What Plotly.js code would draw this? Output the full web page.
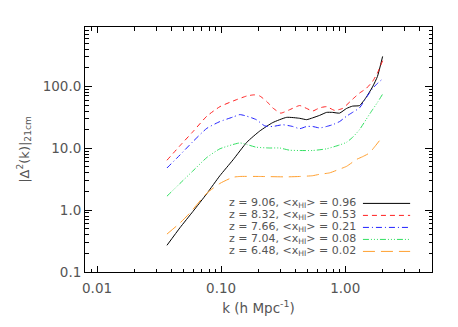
<!DOCTYPE html>
<html>
<head>
<meta charset="utf-8">
<script src="https://cdn.plot.ly/plotly-3.0.1.min.js"></script>
<style>
html,body{margin:0;padding:0;background:#fff;}
#chart{width:458px;height:327px;}
</style>
</head>
<body>
<div id="chart"></div>
<script>
// ---- data ----
var kBlack = [0.0366,0.0466,0.0592,0.0767,0.0977,0.1247,0.161,0.2047,0.2604,0.3374,0.4292,0.4886,0.5460,0.6215,0.7074,0.7903,0.900,1.0244,1.145,1.303,1.47,1.658,1.818,2.0];
var pBlack = [0.27,0.52,0.95,1.85,3.6,6.5,12.5,19,26,31.6,30.5,29,31,34,38,38,37,44,48,49,66,98,145,305];

var kRed = [0.0366,0.0466,0.0592,0.0767,0.0977,0.1247,0.161,0.1849,0.2047,0.2331,0.2604,0.3020,0.3566,0.4292,0.4886,0.5460,0.6215,0.7074,0.8203,0.9512,1.145,1.303,1.47,1.658,1.818,2.0];
var pRed = [6.4,11,18.5,33,47,58,70,73,70,57,45,37,42,49,44,40,45,47,41,44,62,78,92,120,165,260];

var kBlue = [0.0366,0.0466,0.0592,0.0767,0.0977,0.1247,0.1414,0.161,0.1919,0.2245,0.2604,0.3133,0.3770,0.4292,0.4886,0.5460,0.6215,0.7074,0.7903,0.900,1.0244,1.145,1.303,1.47,1.658,1.818,2.0];
var pBlue = [4.8,7.8,12.8,21,27,32,35,33,29,23,22.5,24,22.5,20.7,22.5,22.5,21.3,22.5,24,27,33,38,45,65,92,112,132];

var kGreen = [0.0366,0.0466,0.0592,0.0767,0.0977,0.1247,0.1414,0.161,0.1919,0.2463,0.2963,0.3566,0.4292,0.5460,0.7074,0.900,1.0244,1.145,1.303,1.47,1.658,1.818,2.0];
var pGreen = [1.68,2.7,4.3,7.1,9.8,11.5,12.2,11.5,10.4,10.1,10.1,9.3,9.2,9.2,9.8,11.3,12.5,15,20,29,42,55,75];

var kOrange = [0.0366,0.0466,0.0560,0.0767,0.0977,0.1247,0.1414,0.2047,0.3374,0.4292,0.5460,0.6215,0.7475,0.900,1.0244,1.2327,1.3775,1.5680,1.7525,2.0];
var pOrange = [0.41,0.62,0.9,1.88,2.7,3.4,3.5,3.5,3.45,3.5,3.6,3.8,4.0,4.6,5.1,6.6,7.3,8.4,11,15.4];

var seriesNames = [
  'z = 9.06, &lt;x<sub>HI</sub>&gt; = 0.96',
  'z = 8.32, &lt;x<sub>HI</sub>&gt; = 0.53',
  'z = 7.66, &lt;x<sub>HI</sub>&gt; = 0.21',
  'z = 7.04, &lt;x<sub>HI</sub>&gt; = 0.08',
  'z = 6.48, &lt;x<sub>HI</sub>&gt; = 0.02'
];
var xTickVals = [0.01, 0.1, 1];
var xTickText = ['0.01', '0.10', '1.00'];
var yTickVals = [0.1, 1, 10, 100];
var yTickText = ['0.1', '1.0', '10.0', '100.0'];

// ---- styles ----
var colors = ['#000000', '#ff2020', '#2020ff', '#30e060', '#ffa030'];
var dashes = ['solid', '5px,4px', '6px,3px,1px,3px', '6px,2px,1px,2px,1px,2px,1px,2px', '12px,6px'];
var xs = [kBlack, kRed, kBlue, kGreen, kOrange];
var ys = [pBlack, pRed, pBlue, pGreen, pOrange];

var traces = [];
for (var i = 0; i < xs.length; i++) {
  traces.push({
    x: xs[i], y: ys[i], type: 'scatter', mode: 'lines',
    name: seriesNames[i], showlegend: false,
    line: {color: colors[i], width: 1, dash: dashes[i], shape: 'spline', smoothing: 0.5},
    hoverinfo: 'skip'
  });
}
// invisible carrier trace for the minor-tick overlay axes
traces.push({x: [], y: [], xaxis: 'x2', yaxis: 'y2', type: 'scatter', mode: 'lines', showlegend: false, hoverinfo: 'skip'});

// minor tick positions
var xMinor = [], yMinor = [];
[0.001, 0.01, 0.1, 1].forEach(function (d) {
  for (var m = 2; m <= 9; m++) { xMinor.push(m * d); }
});
[0.1, 1, 10, 100].forEach(function (d) {
  for (var m = 2; m <= 9; m++) { yMinor.push(m * d); }
});

var xRange = [Math.log10(0.008), Math.log10(5)];
var yRange = [-1, 2.96];

var tickFont = {family: 'DejaVu Sans, sans-serif', size: 13.5, color: '#555555'};

// legend (drawn with label on the left, sample line on the right)
var annotations = [], shapes = [];
var legTextX = 0.787, legLineX0 = 0.801, legLineX1 = 0.937, legTop = 0.280, legStep = 0.049;
for (var j = 0; j < seriesNames.length; j++) {
  var yy = legTop - j * legStep;
  annotations.push({
    xref: 'paper', yref: 'paper', x: legTextX, y: yy, xanchor: 'right', yanchor: 'middle',
    text: seriesNames[j], showarrow: false,
    font: {family: 'DejaVu Sans, sans-serif', size: 11, color: '#555555'}
  });
  shapes.push({
    type: 'line', xref: 'paper', yref: 'paper', x0: legLineX0, x1: legLineX1, y0: yy, y1: yy,
    line: {color: colors[j], width: 1, dash: dashes[j]}
  });
}

var layout = {
  width: 458, height: 327,
  margin: {l: 85, r: 26, t: 27, b: 55},
  paper_bgcolor: '#ffffff', plot_bgcolor: '#ffffff',
  showlegend: false,
  xaxis: {
    type: 'log', range: xRange, tickvals: xTickVals, ticktext: xTickText,
    ticks: 'inside', ticklen: 6, tickwidth: 1, tickcolor: '#000', ticklabelstandoff: 4,
    showline: true, linecolor: '#000', linewidth: 1, mirror: 'ticks',
    showgrid: false, zeroline: false, tickfont: tickFont,
    title: {text: 'k (h Mpc<sup>-1</sup>)', font: {family: 'DejaVu Sans, sans-serif', size: 13.5, color: '#555555'}, standoff: 8}
  },
  yaxis: {
    type: 'log', range: yRange, tickvals: yTickVals, ticktext: yTickText,
    ticks: 'inside', ticklen: 7, tickwidth: 1, tickcolor: '#000',
    showline: true, linecolor: '#000', linewidth: 1, mirror: 'ticks',
    showgrid: false, zeroline: false, tickfont: tickFont,
    title: {text: '|Δ<sup>2</sup>(k)|<sub>21cm</sub>', font: {family: 'DejaVu Sans, sans-serif', size: 13, color: '#555555'}, standoff: 10}
  },
  xaxis2: {
    type: 'log', range: xRange, overlaying: 'x', anchor: 'y2', tickvals: xMinor,
    ticks: 'inside', ticklen: 3.5, tickwidth: 1, tickcolor: '#000', mirror: 'ticks',
    showticklabels: false, showgrid: false, zeroline: false, showline: false
  },
  yaxis2: {
    type: 'log', range: yRange, overlaying: 'y', anchor: 'x2', tickvals: yMinor,
    ticks: 'inside', ticklen: 3.5, tickwidth: 1, tickcolor: '#000', mirror: 'ticks',
    showticklabels: false, showgrid: false, zeroline: false, showline: false
  },
  annotations: annotations,
  shapes: shapes
};

Plotly.newPlot('chart', traces, layout, {staticPlot: true, displayModeBar: false});
</script>
</body>
</html>
